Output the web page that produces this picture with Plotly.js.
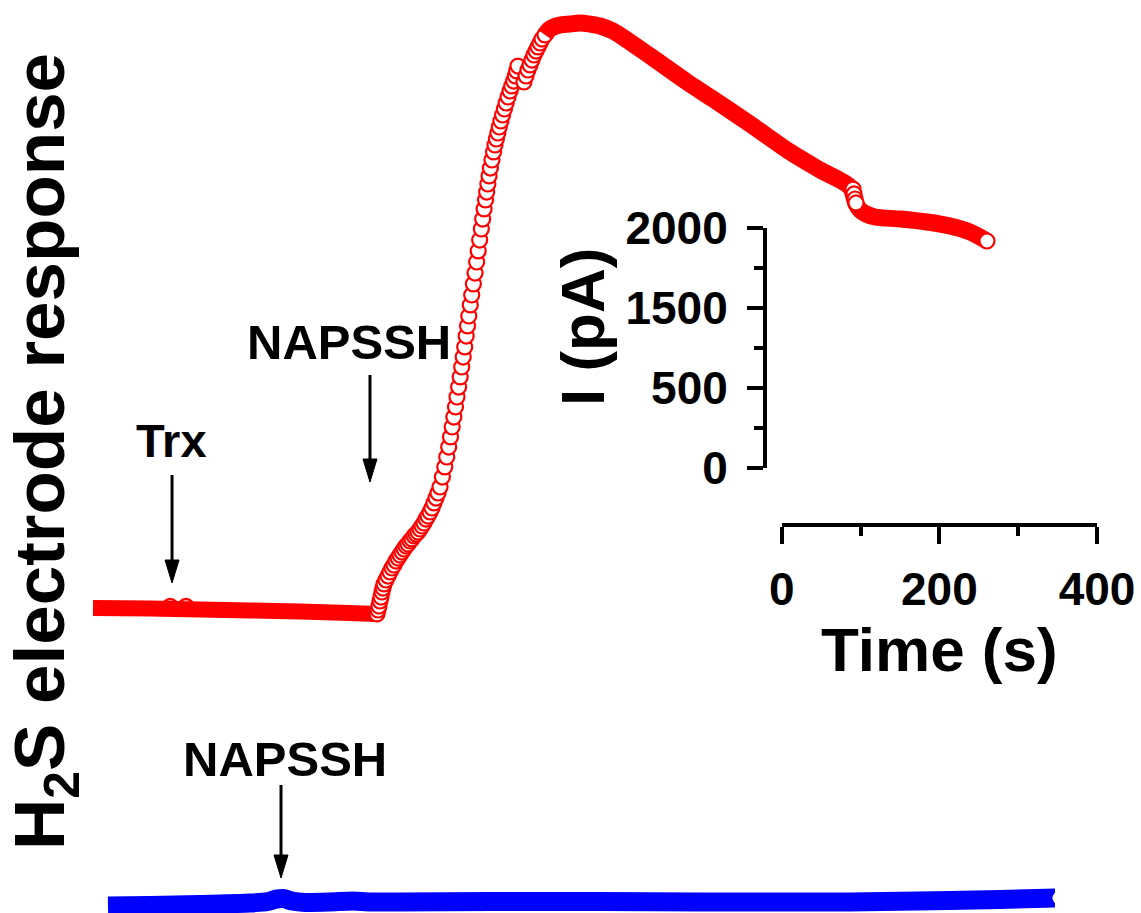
<!DOCTYPE html>
<html><head><meta charset="utf-8">
<script src="https://cdn.plot.ly/plotly-3.0.1.min.js"></script>
<style>html,body{margin:0;padding:0;background:#fff}</style>
</head><body><div id="chart" style="width:1141px;height:913px"></div>
<script>
// ---------- DATA (time in s, current in pA) ----------
// Red trace (Trx then NAPSSH): dense baseline before the rise
const redBaseTime    = [0, 72, 136, 199, 263, 326, 359];
const redBaseCurrent = [67, 63, 54, 46, 38, 25, 17];
// small bumps right after Trx addition
const redTrxTime    = [98, 118];
const redTrxCurrent = [79, 79];
// rise after NAPSSH (individually visible circles)
const redRiseTime = [360.4,361.7,362.9,364.2,365.5,366.7,368.0,369.3,371.8,374.4,376.9,379.4,382.0,384.5,387.1,389.6,392.1,394.7,397.2,399.7,402.3,404.8,407.4,409.9,412.4,415.0,417.5,420.0,422.6,425.1,427.7,430.2,432.7,435.3,437.8,440.4,
  443.4,446.4,448.9,451.4,453.7,455.8,457.9,460.0,461.9,464.0,466.0,467.9,469.8,471.7,473.6,475.3,476.9,478.8,480.6,482.7,484.8,486.9,488.8,490.7,492.8,494.5,496.3,498.1,499.6,501.1,502.6,504.3,506.3,508.3,510.1,511.9,513.8,515.6,517.6,519.8,522.1,524.3,526.7,529.2,531.4,533.8,535.9,537.6,539.3,
  546.9,549.5,552.0,554.6,557.1,559.6,562.2,564.7,567.3,569.8,573.6];
const redRiseCurrent = [17,50,83,125,158,200,233,267,300,333,367,400,425,458,483,508,533,558,583,600,625,642,667,683,700,725,750,775,808,833,867,900,942,983,1025,1075,
  1158,1242,1325,1408,1492,1575,1658,1742,1825,1908,1992,2075,2158,2242,2333,2417,2500,2592,2675,2767,2858,2950,3042,3133,3225,3308,3392,3467,3533,3600,3667,3733,3800,3867,3925,3975,4025,4075,4125,4175,4225,4275,4325,4375,4417,4458,4500,4542,4583,
  4450,4500,4550,4592,4633,4675,4708,4742,4775,4808,4842];
// peak and decay (dense band)
const redDecayTime    = [573.6,580.0,592.6,605.3,618.0,630.7,643.4,659.9,677.7,710.7,753.8,786.8,833.8,884.5,922.6,960.7,968.3,973.4,981.0,992.4,1024.1,1058.4,1087.6,1113.0,1134.5];
const redDecayCurrent = [4842,4892,4925,4933,4942,4933,4917,4875,4800,4650,4450,4308,4100,3867,3717,3575,3433,3383,3350,3325,3308,3283,3250,3200,3125];
// step near 965 s (visible circles)
const redStepTime    = [964.5, 965.8, 967.1, 968.3];
const redStepCurrent = [3558, 3517, 3475, 3442];
// Blue trace (NAPSSH only)
const blueTime    = [19.0,72.3,135.8,199.2,222.1,232.2,241.1,252.5,269.0,300.8,329.9,351.5,389.6,503.8,643.4,770.3,897.2,960.7,1087.6,1151.0,1225.9];
const blueCurrent = [33,38,46,58,71,90,96,75,63,67,75,67,67,71,71,67,67,67,79,88,100];
// vertical display offset of the red trace above the blue one (pA)
const redOffset = 2450;
// addition events
const redEvents  = [{label: 'Trx', time: 100.3}, {label: 'NAPSSH', time: 351.5}];
const blueEvents = [{label: 'NAPSSH', time: 238.6}];
// scale bars
const timeTickVals = [0, 200, 400];
const timeTickText = ['0', '200', '400'];
const timeMinorVals = [100, 300];
const currTickVals = [0, 2000/3, 4000/3, 2000];
const currTickText = ['0', '500', '1500', '2000'];
const currMinorVals = [1000/3, 1000, 5000/3];

// ---------- DRAW ----------
const W = 1141, H = 913;
const PX = x => x / W, PY = y => 1 - y / H;
const FAM = 'Liberation Sans, Arial, Helvetica, sans-serif';
const RED = '#ff0000', BLUE = '#0000ff';
const off = a => a.map(v => v + redOffset);
const ring = (c, s, w) => ({symbol: 'circle', size: s, color: 'white', line: {color: c, width: w}});

const traces = [
  {x: redTrxTime, y: off(redTrxCurrent), mode: 'markers', marker: ring(RED, 15, 2.5)},
  {x: redBaseTime, y: off(redBaseCurrent), mode: 'lines', line: {color: RED, width: 16, shape: 'spline', smoothing: 0.6}},
  {x: redRiseTime, y: off(redRiseCurrent), mode: 'markers', marker: ring(RED, 15, 2.2)},
  {x: redDecayTime, y: off(redDecayCurrent), mode: 'lines', line: {color: RED, width: 17, shape: 'spline', smoothing: 0.8}},
  {x: redStepTime, y: off(redStepCurrent), mode: 'markers', marker: ring(RED, 15, 2.2)},
  {x: redDecayTime.slice(-1), y: off(redDecayCurrent.slice(-1)), mode: 'markers', marker: ring(RED, 15, 2.2)},
  {x: blueTime, y: blueCurrent, mode: 'lines', line: {color: BLUE, width: 19, shape: 'spline', smoothing: 0.6}},
  {x: blueTime.slice(-1), y: blueCurrent.slice(-1), mode: 'markers', marker: ring(BLUE, 16, 3)},
  {x: [], y: [], xaxis: 'x2', yaxis: 'y2', mode: 'markers'}
];
traces.forEach(t => { t.showlegend = false; t.hoverinfo = 'skip'; });

// arrows and labels
const shapes = [], annotations = [];
const hw = 7 / 0.788; // half head width in s
function arrow(t, top, base, tip) {
  shapes.push({type: 'line', xref: 'x', yref: 'paper', x0: t, x1: t, y0: PY(top), y1: PY(base + 2),
               line: {color: 'black', width: 3}});
  shapes.push({type: 'path', xref: 'x', yref: 'paper',
               path: `M ${t - hw},${PY(base)} L ${t + hw},${PY(base)} L ${t},${PY(tip)} Z`,
               fillcolor: 'black', line: {color: 'black', width: 1}});
}
function label(text, cx, cy, size) {
  annotations.push({text: text, xref: 'paper', yref: 'paper', x: PX(cx), y: PY(cy),
    xanchor: 'center', yanchor: 'middle', showarrow: false,
    font: {family: FAM, size: size, color: 'black', weight: 'bold'}});
}
arrow(redEvents[0].time, 475, 560, 583);   label(redEvents[0].label, 172, 440, 47);
arrow(redEvents[1].time, 375, 459, 482);   label(redEvents[1].label, 349, 342, 49);
arrow(blueEvents[0].time, 785, 855, 878);  label(blueEvents[0].label, 285, 759, 49);

annotations.push({text: 'H<sub>2</sub>S electrode response', xref: 'paper', yref: 'paper',
  x: PX(45), y: PY(452), xanchor: 'center', yanchor: 'middle', textangle: -90, showarrow: false,
  font: {family: FAM, size: 71, color: 'black', weight: 'bold'}});
annotations.push({text: 'I (pA)', xref: 'paper', yref: 'paper',
  x: PX(583), y: PY(327), xanchor: 'center', yanchor: 'middle', textangle: -90, showarrow: false,
  font: {family: FAM, size: 62, color: 'black', weight: 'bold'}});

const tickFont = {family: FAM, size: 46, color: 'black', weight: 'bold'};
const layout = {
  width: W, height: H,
  margin: {l: 0, r: 0, t: 0, b: 0, pad: 0},
  paper_bgcolor: 'white', plot_bgcolor: 'rgba(0,0,0,0)',
  showlegend: false, hovermode: false,
  xaxis: {domain: [0, 1055 / W], range: [-118.02, 1220.82], visible: false, fixedrange: true},
  yaxis: {domain: [0, 1], range: [-25, 7583.3], visible: false, fixedrange: true},
  xaxis2: {domain: [781.7 / W, 1097 / W], range: [0, 400], anchor: 'free', position: PY(525),
    showline: true, linewidth: 4, linecolor: 'black', showgrid: false, zeroline: false,
    ticks: 'outside', ticklen: 17, tickwidth: 4, tickcolor: 'black',
    tickmode: 'array', tickvals: timeTickVals, ticktext: timeTickText, tickfont: tickFont,
    ticklabelstandoff: 6,
    minor: {tickmode: 'array', tickvals: timeMinorVals, ticks: 'outside', ticklen: 9, tickwidth: 4, tickcolor: 'black', showgrid: false},
    title: {text: 'Time (s)', font: {family: FAM, size: 62, color: 'black', weight: 'bold'}, standoff: 12},
    fixedrange: true},
  yaxis2: {domain: [PY(468), PY(228)], range: [0, 2000], anchor: 'free', position: PX(765), side: 'left',
    showline: true, linewidth: 4, linecolor: 'black', showgrid: false, zeroline: false,
    ticks: 'outside', ticklen: 16, tickwidth: 4, tickcolor: 'black',
    tickmode: 'array', tickvals: currTickVals, ticktext: currTickText, tickfont: tickFont,
    ticklabelstandoff: 10,
    minor: {tickmode: 'array', tickvals: currMinorVals, ticks: 'outside', ticklen: 9, tickwidth: 4, tickcolor: 'black', showgrid: false},
    fixedrange: true},
  shapes: shapes,
  annotations: annotations
};
Plotly.newPlot('chart', traces, layout, {displayModeBar: false, staticPlot: true});
</script></body></html>
